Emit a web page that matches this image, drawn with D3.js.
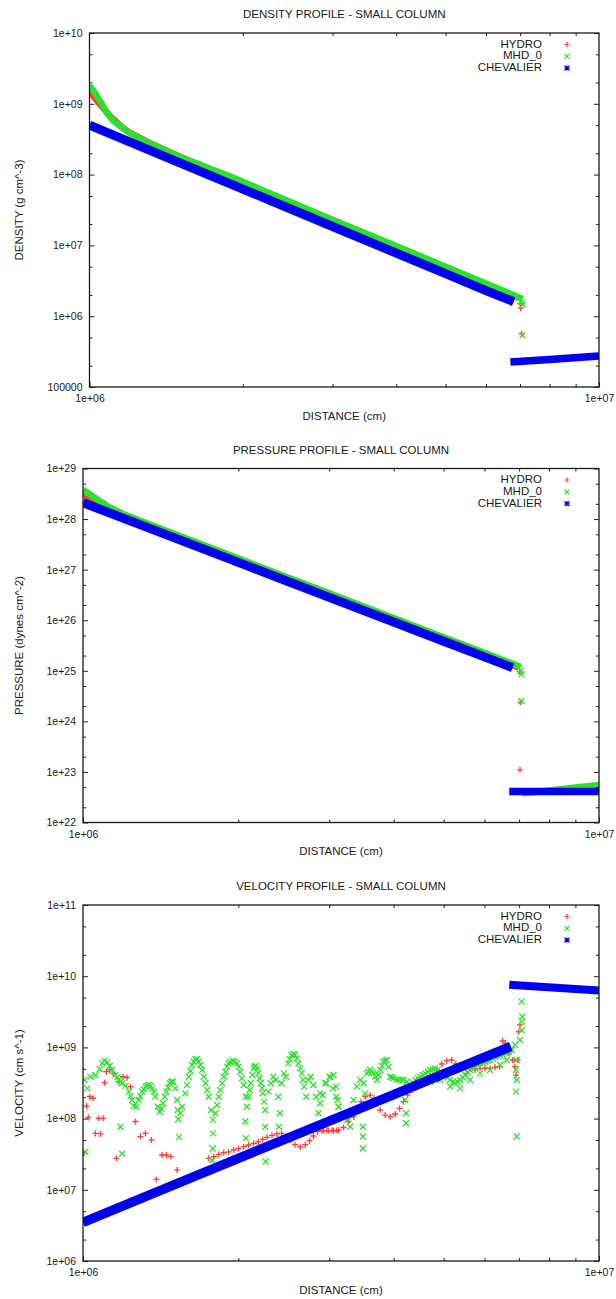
<!DOCTYPE html>
<html>
<head>
<meta charset="utf-8">
<script src="https://cdn.jsdelivr.net/npm/d3@7"></script>
<style>
  body { margin: 0; background: #fff; }
  text { font-family: "Liberation Sans", Arial, Helvetica, sans-serif; fill: #1a1a1a; }
</style>
</head>
<body>
<svg id="chart" width="616" height="1299"></svg>
<script>
// ---------- shared axis labels ----------
const xTickValues = [1e6, 1e7];
const xTickLabels = ["1e+06", "1e+07"];
const xMinorTicks = [2e6, 3e6, 4e6, 5e6, 6e6, 7e6, 8e6, 9e6];
const legendLabels = ["HYDRO", "MHD_0", "CHEVALIER"];

// ---------- density profile ----------
const densityTicks = [1e5, 1e6, 1e7, 1e8, 1e9, 1e10];
const densityTickLabels = ["100000", "1e+06", "1e+07", "1e+08", "1e+09", "1e+10"];
const densityHydroBand = [[1.00e6,1.5e9],[1.03e6,1.15e9],[1.06e6,9.0e8],[1.10e6,6.6e8],[1.15e6,4.9e8],[1.20e6,3.9e8],[1.30e6,2.9e8],[1.50e6,1.8e8],[2.0e6,7.6e7],[3.0e6,2.25e7],[4.0e6,9.5e6],[5.0e6,4.9e6],[6.0e6,2.85e6],[6.95e6,1.8e6]];
const densityHydroPts = [[7.00e6,1.5e6],[7.02e6,1.3e6],[7.05e6,5.6e5]];
const densityMhdBand = [[1.00e6,1.8e9],[1.02e6,1.5e9],[1.05e6,1.08e9],[1.08e6,7.6e8],[1.11e6,5.9e8],[1.15e6,4.8e8],[1.20e6,3.85e8],[1.29e6,2.93e8],[1.50e6,1.8e8],[1.89e6,9.4e7],[2.5e6,4.0e7],[3.0e6,2.3e7],[4.0e6,9.8e6],[5.0e6,5.0e6],[6.0e6,2.9e6],[7.08e6,1.75e6]];
const densityMhdPts = [[7.05e6,1.6e6],[7.08e6,1.45e6],[7.08e6,5.4e5]];
const densityChevInner = [[1.0e6,5.0e8],[1.5e6,1.48e8],[2.0e6,6.25e7],[3.0e6,1.85e7],[4.0e6,7.8e6],[5.0e6,4.0e6],[6.0e6,2.3e6],[6.8e6,1.6e6]];
const densityChevOuter = [[6.7e6,2.25e5],[8.0e6,2.45e5],[1.0e7,2.75e5]];

// ---------- pressure profile ----------
const pressureTicks = [1e22, 1e23, 1e24, 1e25, 1e26, 1e27, 1e28, 1e29];
const pressureTickLabels = ["1e+22", "1e+23", "1e+24", "1e+25", "1e+26", "1e+27", "1e+28", "1e+29"];
const pressureHydroBand = [[1.00e6,3.1e28],[1.04e6,2.5e28],[1.08e6,2.0e28],[1.12e6,1.65e28],[1.2e6,1.22e28],[1.5e6,5.0e27],[2.0e6,1.62e27],[3.0e6,3.35e26],[4.0e6,1.08e26],[5.0e6,4.5e25],[6.0e6,2.2e25],[7.0e6,1.15e25]];
const pressureHydroPts = [[7.02e6,9.5e24],[7.05e6,2.4e24],[7.03e6,1.1e23]];
const pressureMhdBand = [[1.00e6,3.8e28],[1.03e6,3.1e28],[1.07e6,2.4e28],[1.12e6,1.75e28],[1.2e6,1.25e28],[1.5e6,5.1e27],[2.0e6,1.67e27],[3.0e6,3.4e26],[4.0e6,1.1e26],[5.0e6,4.6e25],[6.0e6,2.26e25],[7.05e6,1.2e25]];
const pressureMhdPts = [[7.06e6,1.0e25],[7.08e6,8.5e24],[7.07e6,2.5e24]];
const pressureMhdOuter = [[7.1e6,3.8e22],[8.0e6,4.3e22],[9.0e6,4.9e22],[1.0e7,5.5e22]];
const pressureChevInner = [[1.0e6,2.1e28],[1.5e6,4.3e27],[2.0e6,1.39e27],[3.0e6,2.83e26],[4.0e6,9.2e25],[5.0e6,3.83e25],[6.0e6,1.88e25],[6.8e6,1.15e25]];
const pressureChevOuter = [[6.7e6,4.1e22],[1.0e7,4.1e22]];

// ---------- velocity profile ----------
const velocityTicks = [1e6, 1e7, 1e8, 1e9, 1e10, 1e11];
const velocityTickLabels = ["1e+06", "1e+07", "1e+08", "1e+09", "1e+10", "1e+11"];
const velocityHydro = [
  [1.005e6,3.3e7],[1.016e6,1.50e8],[1.031e6,2.03e8],[1.046e6,1.93e8],[1.024e6,1.04e8],[1.073e6,1.01e8],[1.094e6,1.01e8],
  [1.057e6,6.2e7],[1.081e6,6.1e7],[1.110e6,4.56e8],[1.127e6,4.82e8],[1.144e6,4.32e8],[1.101e6,3.2e8],[1.173e6,3.30e8],
  [1.196e6,3.88e8],[1.217e6,3.76e8],[1.236e6,2.81e8],[1.264e6,9.1e7],[1.161e6,2.77e7],[1.292e6,5.6e7],[1.321e6,6.2e7],
  [1.357e6,5.0e7],[1.388e6,1.40e7],[1.423e6,3.08e7],[1.451e6,3.08e7],[1.480e6,2.92e7],[1.522e6,1.90e7],
  [1.753e6,2.77e7],[1.792e6,2.92e7],[1.833e6,3.15e7],[1.874e6,3.33e7],[1.916e6,3.4e7],[1.959e6,3.62e7],[2.003e6,3.8e7],
  [2.048e6,4.03e7],[2.094e6,4.26e7],[2.143e6,4.5e7],[2.187e6,4.7e7],[2.230e6,5.1e7],[2.273e6,5.46e7],[2.324e6,5.82e7],
  [2.376e6,6.1e7],[2.426e6,6.2e7],[2.485e6,5.7e7],[2.529e6,5.0e7],[2.575e6,4.3e7],[2.637e6,4.0e7],[2.696e6,4.3e7],
  [2.749e6,4.9e7],[2.796e6,5.7e7],[2.849e6,6.55e7],[2.904e6,6.8e7],[2.970e6,6.8e7],[3.037e6,6.8e7],[3.105e6,6.8e7],
  [2.926e6,6.77e7],[2.991e6,6.8e7],[3.059e6,6.8e7],[3.128e6,6.9e7],[3.199e6,7.5e7],[3.271e6,9.1e7],[3.345e6,1.06e8],
  [3.405e6,1.32e8],[3.456e6,1.73e8],[3.524e6,2.03e8],[3.603e6,2.14e8],[3.668e6,1.93e8],[3.767e6,1.32e8],[3.852e6,1.12e8],
  [3.939e6,1.06e8],[4.027e6,1.16e8],[4.106e6,1.39e8],[4.180e6,1.73e8],[4.255e6,2.14e8],[4.339e6,2.52e8],[4.436e6,2.87e8],
  [4.570e6,3.41e8],[4.707e6,3.96e8],[4.849e6,4.82e8],[4.958e6,5.85e8],[5.07e6,6.5e8],[5.184e6,6.65e8],[5.278e6,5.85e8],
  [5.341e6,4.82e8],[5.224e6,4.56e8],[5.108e6,4.82e8],[5.543e6,4.32e8],[5.752e6,4.82e8],[5.881e6,5.08e8],[6.015e6,5.08e8],
  [6.150e6,5.08e8],[6.289e6,5.25e8],[6.412e6,5.36e8],[6.509e6,1.23e9],[6.586e6,1.14e9],[6.705e6,8.3e8],[6.805e6,6.65e8],
  [6.876e6,5.36e8],[6.907e6,4.09e8],[6.95e6,6.65e8],[6.989e6,1.66e9],[7.031e6,2.07e9]
];
const velocityMhd = [
  [1.007e6,3.48e8],[1.019e6,2.66e8],[1.011e6,3.4e7],[1.034e6,3.88e8],[1.057e6,4.09e8],[1.078e6,4.92e8],[1.089e6,5.97e8],
  [1.101e6,6.44e8],[1.114e6,6.17e8],[1.127e6,5.48e8],[1.139e6,4.82e8],[1.156e6,4.09e8],[1.173e6,3.48e8],[1.191e6,3.13e8],
  [1.209e6,2.87e8],[1.227e6,2.39e8],[1.245e6,1.82e8],[1.254e6,1.50e8],[1.269e6,1.47e8],[1.282e6,1.82e8],[1.302e6,2.39e8],
  [1.321e6,2.81e8],[1.341e6,2.96e8],[1.361e6,2.66e8],[1.382e6,2.03e8],[1.396e6,1.47e8],[1.409e6,1.25e8],[1.430e6,1.64e8],
  [1.451e6,2.39e8],[1.473e6,3.13e8],[1.495e6,3.30e8],[1.510e6,2.66e8],[1.522e6,1.82e8],[1.526e6,1.32e8],[1.529e6,9.8e7],
  [1.535e6,5.5e7],[1.182e6,7.7e7],[1.191e6,3.2e7],[1.556e6,1.47e8],[1.579e6,2.26e8],[1.603e6,3.88e8],[1.627e6,5.66e8],
  [1.651e6,6.79e8],[1.676e6,6.31e8],[1.701e6,4.82e8],[1.727e6,3.13e8],[1.753e6,2.03e8],[1.771e6,1.32e8],[1.784e6,9.6e7],
  [1.786e6,6.2e7],[1.784e6,3.8e7],[1.779e6,2.6e7],[1.805e6,1.19e8],[1.833e6,2.03e8],[1.860e6,3.13e8],[1.888e6,4.56e8],
  [1.916e6,5.97e8],[1.954e6,6.44e8],[1.989e6,5.97e8],[2.018e6,4.56e8],[2.048e6,2.96e8],[2.069e6,2.03e8],[2.079e6,1.47e8],
  [2.064e6,9.1e7],[2.069e6,5.3e7],[2.094e6,2.03e8],[2.115e6,3.13e8],[2.143e6,5.08e8],[2.163e6,5.48e8],[2.187e6,4.32e8],
  [2.211e6,3.13e8],[2.230e6,2.26e8],[2.244e6,1.73e8],[2.254e6,1.32e8],[2.254e6,7.7e7],[2.260e6,2.5e7],[2.288e6,2.39e8],
  [2.311e6,3.13e8],[2.337e6,3.88e8],[2.362e6,3.48e8],[2.390e6,2.03e8],[2.408e6,1.19e8],[2.397e6,7.7e7],[2.426e6,3.13e8],
  [2.451e6,4.32e8],[2.473e6,3.88e8],[2.500e6,5.97e8],[2.536e6,7.82e8],[2.575e6,7.82e8],[2.615e6,5.97e8],[2.655e6,4.32e8],
  [2.683e6,2.81e8],[2.708e6,2.03e8],[2.735e6,3.48e8],[2.764e6,3.88e8],[2.796e6,2.96e8],[2.830e6,2.03e8],[2.860e6,1.19e8],
  [2.882e6,1.64e8],[2.916e6,2.14e8],[2.960e6,3.13e8],[3.005e6,3.88e8],[3.050e6,2.66e8],[3.097e6,2.03e8],[3.129e6,1.47e8],
  [2.883e6,2.26e8],[2.948e6,3.13e8],[3.015e6,3.88e8],[3.059e6,4.09e8],[3.096e6,2.81e8],[3.114e6,1.82e8],[3.128e6,1.47e8],
  [3.247e6,9.6e7],[3.296e6,7.7e7],[3.320e6,1.06e8],[3.345e6,1.82e8],[3.395e6,2.81e8],[3.446e6,3.48e8],[3.498e6,3.13e8],
  [3.524e6,2.26e8],[3.498e6,1.47e8],[3.487e6,7.7e7],[3.487e6,5.6e7],[3.487e6,3.8e7],[3.550e6,4.32e8],[3.603e6,4.82e8],
  [3.657e6,4.32e8],[3.712e6,3.48e8],[3.767e6,4.82e8],[3.824e6,6.3e8],[3.881e6,6.65e8],[3.910e6,5.36e8],[3.939e6,3.88e8],
  [3.998e6,3.67e8],[4.088e6,3.48e8],[4.180e6,3.48e8],[4.242e6,3.30e8],[4.306e6,2.96e8],[4.211e6,1.82e8],[4.230e6,1.19e8],
  [4.230e6,8.6e7],[4.403e6,3.48e8],[4.502e6,3.88e8],[4.604e6,4.32e8],[4.707e6,4.82e8],[4.813e6,5.08e8],[4.921e6,4.56e8],
  [5.032e6,4.09e8],[5.145e6,3.48e8],[5.261e6,3.13e8],[5.380e6,3.48e8],[5.501e6,4.09e8],[5.625e6,4.82e8],[5.752e6,5.36e8],
  [5.881e6,5.97e8],[6.015e6,6.3e8],[6.150e6,6.65e8],[6.289e6,7.4e8],[6.431e6,7.8e8],[6.577e6,8.3e8],[6.674e6,8.7e8],
  [6.775e6,9.2e8],[6.876e6,1.08e9],[6.928e6,6.65e8],[6.907e6,4.82e8],[6.928e6,3.48e8],[6.907e6,2.39e8],[6.928e6,5.6e7],
  [7.031e6,1.27e9],[7.083e6,1.76e9],[7.083e6,2.30e9],[7.104e6,2.70e9],[7.083e6,4.39e9],
  [4.502e6,2.96e8],[4.707e6,3.30e8],[4.921e6,3.48e8],[5.145e6,2.81e8],[5.380e6,2.66e8],[5.625e6,3.48e8],[5.881e6,4.32e8],
  [6.150e6,4.82e8],[6.431e6,5.66e8],[6.626e6,6.65e8],
  [3.576e6,4.56e8],[3.630e6,4.56e8],[3.685e6,3.88e8],[3.739e6,4.09e8],[3.795e6,5.5e8],[3.852e6,6.5e8],[3.969e6,3.78e8],
  [4.045e6,3.56e8],[4.137e6,3.48e8],[4.356e6,3.2e8],[4.455e6,3.67e8],[4.556e6,4.09e8],[4.659e6,4.56e8],[4.764e6,4.9e8],
  [4.871e6,4.82e8],[4.981e6,4.32e8],[5.093e6,3.78e8],[5.208e6,3.30e8],[5.324e6,3.30e8],[5.445e6,3.78e8],[5.567e6,4.42e8],
  [5.693e6,5.08e8],[5.821e6,5.66e8],[5.952e6,6.1e8],[6.086e6,6.5e8],[6.223e6,7.0e8],[6.364e6,7.5e8],[6.508e6,8.1e8],
  [6.625e6,8.4e8],
  [1.545e6,1.19e8],[1.591e6,2.96e8],[1.615e6,4.71e8],[1.639e6,6.31e8],[1.663e6,6.79e8],[1.689e6,5.66e8],[1.714e6,3.88e8],
  [1.740e6,2.52e8],[1.819e6,1.55e8],[1.846e6,2.52e8],[1.874e6,3.88e8],[1.902e6,5.37e8],[1.930e6,6.24e8],[1.971e6,6.31e8],
  [2.003e6,5.37e8],[2.033e6,3.68e8],[2.104e6,2.52e8],[2.129e6,4.09e8],[2.151e6,5.37e8],[2.177e6,5.08e8],[2.200e6,3.68e8],
  [2.223e6,2.66e8],[2.515e6,6.79e8],[2.560e6,8.07e8],[2.598e6,7.0e8],[2.637e6,5.08e8],[2.669e6,3.48e8],
  [1.165e6,3.8e8],[1.182e6,3.30e8],[1.236e6,2.07e8],[1.292e6,2.07e8],[1.311e6,2.58e8],[1.331e6,2.9e8],[1.351e6,2.87e8],
  [1.372e6,2.39e8],[1.419e6,1.39e8],[1.440e6,2.03e8],[1.462e6,2.74e8],[1.484e6,3.30e8]
];
const velocityChevInner = [[1.0e6,3.5e6],[1.5e6,1.17e7],[2.0e6,2.76e7],[3.0e6,9.2e7],[4.0e6,2.17e8],[5.0e6,4.24e8],[6.0e6,7.3e8],[6.75e6,1.03e9]];
const velocityChevOuter = [[6.7e6,7.6e9],[1.0e7,6.3e9]];

// ---------- styling ----------
const RED = "#ff3b3b", GREEN = "#2ee02e", BLUE = "#0000f0";

const panels = [
  {
    title: "DENSITY PROFILE - SMALL COLUMN", yLabel: "DENSITY (g cm^-3)",
    left: 89.5, right: 599, top: 33, bottom: 387,
    yTicks: densityTicks, yTickLabels: densityTickLabels,
    hydroBands: [{ data: densityHydroBand, width: 6.5 }],
    mhdBands: [{ data: densityMhdBand, width: 6.5 }],
    chevBands: [{ data: densityChevInner, width: 9 }, { data: densityChevOuter, width: 7.5 }],
    hydroPts: densityHydroPts, mhdPts: densityMhdPts
  },
  {
    title: "PRESSURE PROFILE - SMALL COLUMN", yLabel: "PRESSURE (dynes cm^-2)",
    left: 83, right: 599, top: 468.5, bottom: 822.5,
    yTicks: pressureTicks, yTickLabels: pressureTickLabels,
    hydroBands: [{ data: pressureHydroBand, width: 6.5 }],
    mhdBands: [{ data: pressureMhdBand, width: 6.5 }, { data: pressureMhdOuter, width: 6.5 }],
    chevBands: [{ data: pressureChevInner, width: 9 }, { data: pressureChevOuter, width: 7.5 }],
    hydroPts: pressureHydroPts, mhdPts: pressureMhdPts
  },
  {
    title: "VELOCITY PROFILE - SMALL COLUMN", yLabel: "VELOCITY (cm s^-1)",
    left: 83, right: 599, top: 905, bottom: 1261,
    yTicks: velocityTicks, yTickLabels: velocityTickLabels,
    hydroBands: [], mhdBands: [],
    chevBands: [{ data: velocityChevInner, width: 9.5 }, { data: velocityChevOuter, width: 8 }],
    hydroPts: velocityHydro, mhdPts: velocityMhd
  }
];

const svg = d3.select("#chart");

function markerPath(shape, s) {
  const plus = `M${-s},0H${s}M0,${-s}V${s}`;
  const cross = `M${-s},${-s}L${s},${s}M${-s},${s}L${s},${-s}`;
  if (shape === "plus") return plus;
  if (shape === "cross") return cross;
  return plus + cross;
}

panels.forEach((p, i) => {
  const g = svg.append("g");
  const x = d3.scaleLog().domain([1e6, 1e7]).range([p.left, p.right]);
  const y = d3.scaleLog().domain([p.yTicks[0], p.yTicks[p.yTicks.length - 1]]).range([p.bottom, p.top]);
  const yMinor = [];
  p.yTicks.slice(0, -1).forEach(t => { yMinor.push(t * 2, t * 5); });

  const clipId = "clip" + i;
  svg.append("clipPath").attr("id", clipId).append("rect")
    .attr("x", p.left).attr("y", p.top)
    .attr("width", p.right - p.left).attr("height", p.bottom - p.top);

  const plot = g.append("g").attr("clip-path", `url(#${clipId})`);
  const line = d3.line().x(d => x(d[0])).y(d => y(d[1]));

  const drawBands = (bands, color) => bands.forEach(b => {
    plot.append("path").attr("d", line(b.data))
      .attr("fill", "none").attr("stroke", color)
      .attr("stroke-width", b.width).attr("stroke-linejoin", "round");
  });
  const drawPoints = (data, shape, color) => {
    plot.append("g").selectAll("path").data(data).join("path")
      .attr("transform", d => `translate(${x(d[0])},${y(d[1])})`)
      .attr("d", markerPath(shape, 3))
      .attr("fill", "none").attr("stroke", color).attr("stroke-width", 1.3);
  };

  // draw order: HYDRO, MHD_0, then CHEVALIER on top
  drawBands(p.hydroBands, RED);
  drawPoints(p.hydroPts, "plus", RED);
  drawBands(p.mhdBands, GREEN);
  drawPoints(p.mhdPts, "cross", GREEN);
  drawBands(p.chevBands, BLUE);

  // axes: labelled left/bottom, mirrored ticks on right/top
  const axisStyle = sel => { sel.select(".domain").remove(); sel.selectAll("line").attr("stroke", "#222").attr("stroke-width", 1); };
  const labelStyle = s => s.selectAll("text").attr("font-size", 10.5).attr("font-family", null).attr("fill", "#1a1a1a");

  g.append("g").attr("transform", `translate(${p.left},0)`)
    .call(d3.axisLeft(y).tickValues(p.yTicks).tickSize(-5).tickPadding(7)
      .tickFormat((d, k) => p.yTickLabels[k]))
    .call(axisStyle).call(labelStyle);
  g.append("g").attr("transform", `translate(${p.left},0)`)
    .call(d3.axisLeft(y).tickValues(yMinor).tickSize(-3).tickFormat(""))
    .call(axisStyle);
  g.append("g").attr("transform", `translate(${p.right},0)`)
    .call(d3.axisRight(y).tickValues(p.yTicks).tickSize(-5).tickFormat(""))
    .call(axisStyle);
  g.append("g").attr("transform", `translate(${p.right},0)`)
    .call(d3.axisRight(y).tickValues(yMinor).tickSize(-3).tickFormat(""))
    .call(axisStyle);

  g.append("g").attr("transform", `translate(0,${p.bottom})`)
    .call(d3.axisBottom(x).tickValues(xTickValues).tickSize(-5).tickPadding(8)
      .tickFormat((d, k) => xTickLabels[k]))
    .call(axisStyle).call(labelStyle);
  g.append("g").attr("transform", `translate(0,${p.bottom})`)
    .call(d3.axisBottom(x).tickValues(xMinorTicks).tickSize(-3).tickFormat(""))
    .call(axisStyle);
  g.append("g").attr("transform", `translate(0,${p.top})`)
    .call(d3.axisTop(x).tickValues(xMinorTicks).tickSize(-3).tickFormat(""))
    .call(axisStyle);

  // frame
  g.append("rect").attr("x", p.left).attr("y", p.top)
    .attr("width", p.right - p.left).attr("height", p.bottom - p.top)
    .attr("fill", "none").attr("stroke", "#1a1a1a").attr("stroke-width", 1.3);

  // titles
  const cx = (p.left + p.right) / 2;
  g.append("text").attr("x", cx).attr("y", p.top - 18).attr("text-anchor", "middle")
    .attr("dominant-baseline", "middle").attr("font-size", 11.5).text(p.title);
  g.append("text").attr("x", cx).attr("y", p.bottom + 29.5).attr("text-anchor", "middle")
    .attr("dominant-baseline", "middle").attr("font-size", 11.5).text("DISTANCE (cm)");
  g.append("text").attr("transform", `translate(20,${(p.top + p.bottom) / 2}) rotate(-90)`)
    .attr("text-anchor", "middle").attr("dominant-baseline", "middle")
    .attr("font-size", 11.5).text(p.yLabel);

  // legend
  const legendColors = [RED, GREEN, BLUE];
  const legendShapes = ["plus", "cross", "star"];
  legendLabels.forEach((lab, k) => {
    const ly = p.top + 11.5 + k * 11.8;
    g.append("text").attr("x", p.right - 57).attr("y", ly).attr("text-anchor", "end")
      .attr("dominant-baseline", "middle").attr("font-size", 11.5).text(lab);
    g.append("path").attr("transform", `translate(${p.right - 32},${ly})`)
      .attr("d", markerPath(legendShapes[k], 2.5))
      .attr("fill", "none").attr("stroke", legendColors[k]).attr("stroke-width", 1.2);
  });
});
</script>
</body>
</html>
